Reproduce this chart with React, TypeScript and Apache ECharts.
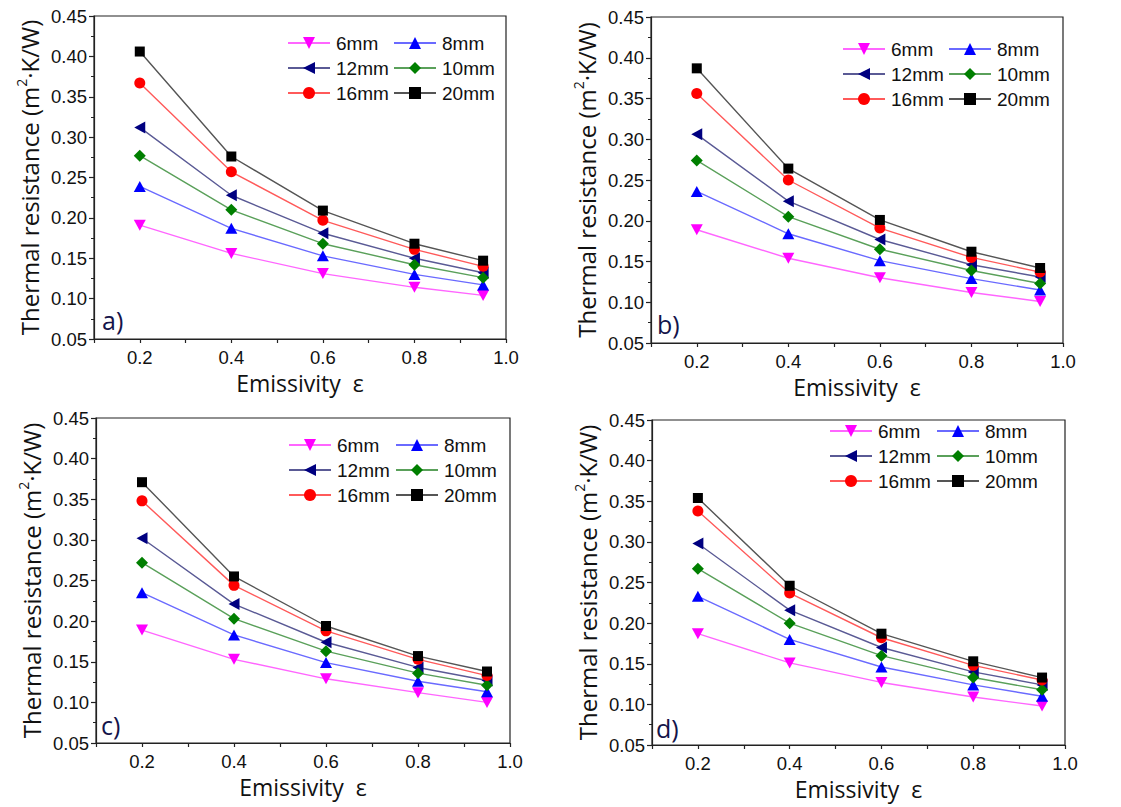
import React, { useEffect, useRef } from "react";
import * as echarts from "echarts";

const emissivity = [0.2, 0.4, 0.6, 0.8, 0.95];
const seriesNames = ["6mm", "8mm", "12mm", "10mm", "16mm", "20mm"];
const panelLabels = ["a)", "b)", "c)", "d)"];
const yTitle = "Thermal resistance";
const xTitle = "Emissivity  ε";

// panel a
const a6 = [0.191, 0.156, 0.131, 0.114, 0.104];
const a8 = [0.239, 0.187, 0.153, 0.13, 0.117];
const a12 = [0.312, 0.228, 0.181, 0.15, 0.132];
const a10 = [0.277, 0.21, 0.168, 0.142, 0.126];
const a16 = [0.367, 0.257, 0.197, 0.161, 0.14];
const a20 = [0.406, 0.276, 0.209, 0.168, 0.147];
// panel b
const b6 = [0.189, 0.154, 0.13, 0.112, 0.101];
const b8 = [0.236, 0.184, 0.151, 0.129, 0.115];
const b12 = [0.306, 0.224, 0.177, 0.146, 0.131];
const b10 = [0.274, 0.205, 0.165, 0.139, 0.123];
const b16 = [0.356, 0.25, 0.191, 0.155, 0.137];
const b20 = [0.387, 0.264, 0.201, 0.162, 0.142];
// panel c
const c6 = [0.189, 0.153, 0.129, 0.112, 0.1];
const c8 = [0.235, 0.183, 0.149, 0.126, 0.113];
const c12 = [0.302, 0.221, 0.174, 0.143, 0.127];
const c10 = [0.272, 0.203, 0.163, 0.136, 0.121];
const c16 = [0.348, 0.244, 0.188, 0.153, 0.133];
const c20 = [0.371, 0.255, 0.194, 0.157, 0.138];
// panel d
const d6 = [0.187, 0.151, 0.127, 0.109, 0.098];
const d8 = [0.233, 0.18, 0.146, 0.124, 0.11];
const d12 = [0.298, 0.216, 0.17, 0.14, 0.124];
const d10 = [0.267, 0.2, 0.16, 0.133, 0.118];
const d16 = [0.338, 0.237, 0.182, 0.148, 0.13];
const d20 = [0.354, 0.246, 0.187, 0.153, 0.133];

const panelData = [
  [a6, a8, a12, a10, a16, a20],
  [b6, b8, b12, b10, b16, b20],
  [c6, c8, c12, c10, c16, c20],
  [d6, d8, d12, d10, d16, d20],
];

const styles = [
  { marker: "#ff00ff", line: "#ff66ff", symbol: "path://M0,0L10,0L5,9Z", size: [12, 11] },
  { marker: "#0000ff", line: "#6a6aff", symbol: "triangle", size: [12, 11] },
  { marker: "#000080", line: "#5a5a95", symbol: "path://M9,0L9,10L0,5Z", size: [11, 12] },
  { marker: "#007f00", line: "#5aa05a", symbol: "diamond", size: [12, 12] },
  { marker: "#ff0000", line: "#ff5a5a", symbol: "circle", size: [11, 11] },
  { marker: "#000000", line: "#555555", symbol: "rect", size: [10, 10] },
];

const grids = [
  { left: 94, top: 16, width: 412, height: 323 },
  { left: 651, top: 17, width: 412, height: 326 },
  { left: 96, top: 418, width: 414, height: 325 },
  { left: 652, top: 420, width: 413, height: 325 },
];
const legendPos = [
  { c1: 287, c2: 393, y: 43 },
  { c1: 842, c2: 948, y: 49 },
  { c1: 288, c2: 395, y: 445 },
  { c1: 829, c2: 936, y: 431 },
];
const letterPos = [
  { x: 102, y: 320 },
  { x: 657, y: 324 },
  { x: 101, y: 725 },
  { x: 656, y: 728 },
];

export default function App() {
  const ref = useRef<HTMLDivElement>(null);
  useEffect(() => {
    document.body.style.margin = "0";
    const chart = echarts.init(ref.current!, null, { renderer: "svg" });
    const axisColor = "#222";
    const tickFont = "Liberation Sans";
    const titleFont = "Open Sans";

    const grid = grids.map((g) => ({
      left: g.left,
      top: g.top,
      width: g.width,
      height: g.height,
      show: true,
      borderColor: axisColor,
      borderWidth: 1.2,
      backgroundColor: "transparent",
    }));

    const xAxis = grids.map((_, i) => ({
      type: "value",
      gridIndex: i,
      min: 0.1,
      max: 1.0,
      interval: 0.1,
      name: xTitle,
      nameLocation: "middle",
      nameGap: 32,
      nameTextStyle: { fontFamily: titleFont, fontSize: 23, color: "#111" },
      axisLine: { show: true, onZero: false, lineStyle: { color: axisColor, width: 1.2 } },
      axisTick: { show: true, inside: false, length: 4, lineStyle: { color: axisColor, width: 1.2 } },
      axisLabel: {
        margin: 9,
        fontFamily: tickFont,
        fontSize: 18.5,
        color: "#111",
        formatter: (v: number) => {
          const k = Math.round(v * 10);
          return k % 2 === 0 ? (k / 10).toFixed(1) : "";
        },
      },
      splitLine: { show: false },
    }));

    const yAxis = grids.map((_, i) => ({
      type: "value",
      gridIndex: i,
      min: 0.05,
      max: 0.45,
      interval: 0.05,
      name: `{a|${yTitle} (m}{s|2}{a|·K/W)}`,
      nameLocation: "middle",
      nameGap: 50,
      nameTextStyle: {
        rich: {
          a: { fontFamily: titleFont, fontSize: 24, color: "#111", lineHeight: 30 },
          s: { fontFamily: titleFont, fontSize: 14, color: "#111", verticalAlign: "top", lineHeight: 15 },
        },
      },
      axisLine: { show: true, onZero: false, lineStyle: { color: axisColor, width: 1.2 } },
      axisTick: { show: true, inside: false, length: 5, lineStyle: { color: axisColor, width: 1.2 } },
      minorTick: { show: true, splitNumber: 2, length: 3, lineStyle: { color: axisColor, width: 1 } },
      axisLabel: {
        margin: 7,
        fontFamily: tickFont,
        fontSize: 18.5,
        color: "#111",
        formatter: (v: number) => v.toFixed(2),
      },
      splitLine: { show: false },
    }));

    const series: any[] = [];
    panelData.forEach((arrs, p) => {
      arrs.forEach((vals, s) => {
        const st = styles[s];
        series.push({
          type: "line",
          name: seriesNames[s],
          xAxisIndex: p,
          yAxisIndex: p,
          data: vals.map((v, k) => [emissivity[k], v]),
          symbol: st.symbol,
          symbolSize: st.size,
          showAllSymbol: true,
          lineStyle: { color: st.line, width: 1.4 },
          itemStyle: { color: st.marker },
          z: 3 + s,
        });
      });
    });

    const legendCommon = {
      orient: "vertical",
      itemWidth: 42,
      itemHeight: 15,
      itemGap: 6,
      padding: 0,
      selectedMode: false,
      textStyle: { fontFamily: tickFont, fontSize: 19, color: "#111", padding: [0, 0, 0, 1] },
    };
    const legend: any[] = [];
    legendPos.forEach((lp) => {
      legend.push({ ...legendCommon, left: lp.c1, top: lp.y - 9.5, data: ["6mm", "12mm", "16mm"] });
      legend.push({ ...legendCommon, left: lp.c2, top: lp.y - 9.5, data: ["8mm", "10mm", "20mm"] });
    });

    const graphic = letterPos.map((lp, i) => ({
      type: "text",
      x: lp.x,
      y: lp.y,
      style: {
        text: panelLabels[i],
        font: `25px "${titleFont}"`,
        fill: "#14144a",
        verticalAlign: "middle",
        align: "left",
      },
    }));

    chart.setOption({
      animation: false,
      backgroundColor: "#ffffff",
      grid,
      xAxis,
      yAxis,
      legend,
      series,
      graphic,
    });
    return () => chart.dispose();
  }, []);
  return <div ref={ref} style={{ width: 1121, height: 807 }} />;
}
